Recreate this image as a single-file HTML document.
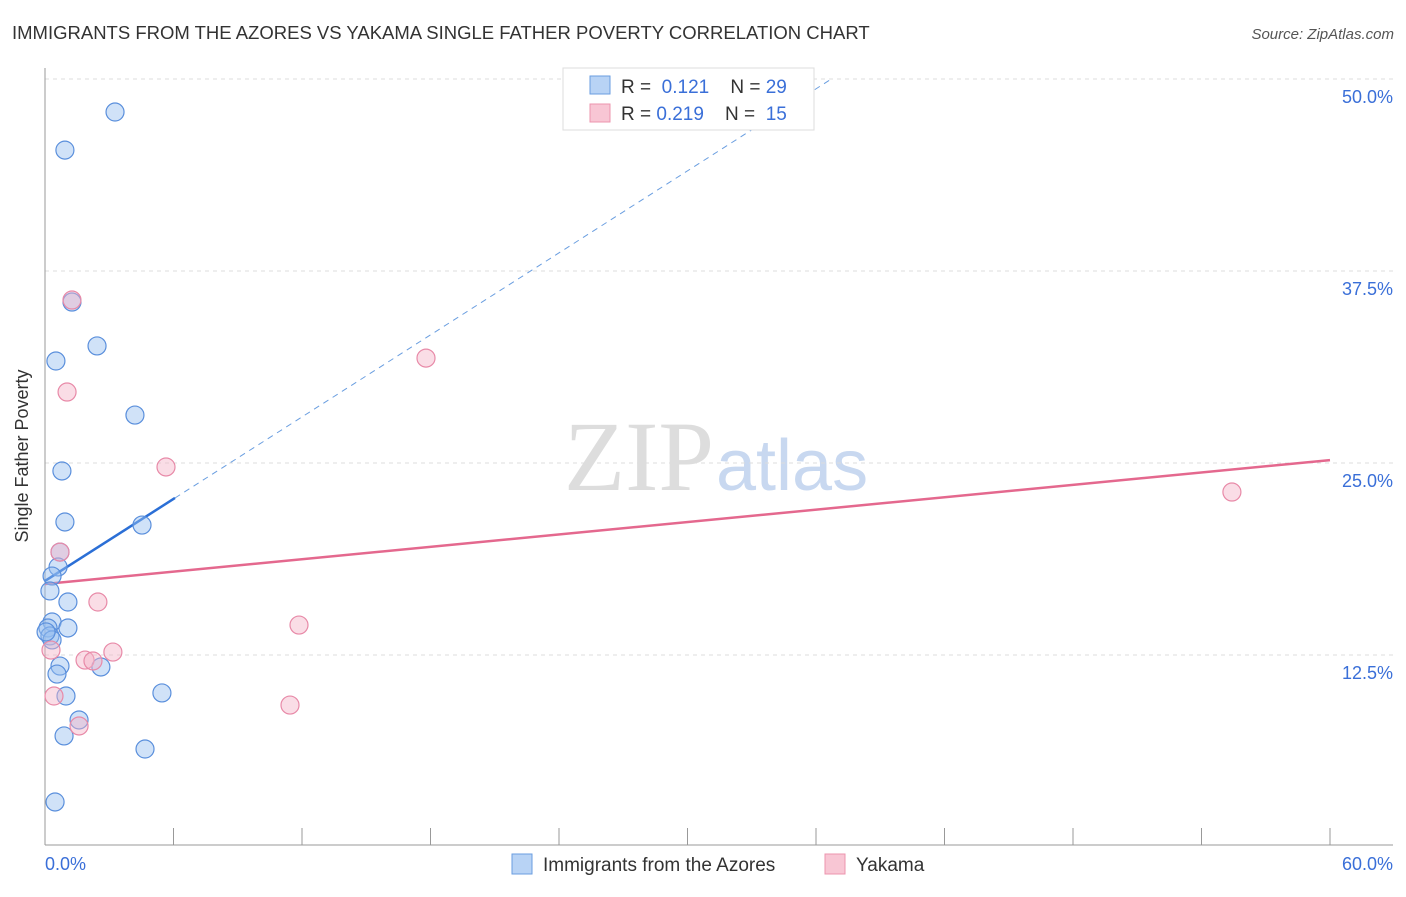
<!DOCTYPE html>
<html><head><meta charset="utf-8"><style>
body{margin:0;background:#fff;font-family:"Liberation Sans",sans-serif}
</style></head><body>
<svg width="1406" height="892" xmlns="http://www.w3.org/2000/svg" font-family="Liberation Sans, sans-serif">
<text x="12" y="39" font-size="18.5" fill="#333">IMMIGRANTS FROM THE AZORES VS YAKAMA SINGLE FATHER POVERTY CORRELATION CHART</text>
<text x="1394" y="39" font-size="15" fill="#555" font-style="italic" text-anchor="end">Source: ZipAtlas.com</text>
<text x="714" y="490" font-size="100" fill="#ddd" text-anchor="end" font-family="Liberation Serif, serif">ZIP</text>
<text x="716" y="490" font-size="72" fill="#c8d8f0">atlas</text>
<g id="grid"></g>
<line x1="45" y1="68" x2="45" y2="845" stroke="#999"/>
<line x1="45" y1="845" x2="1393" y2="845" stroke="#999"/>
<g id="xt"></g>
<text x="28" y="456" font-size="18" fill="#333" text-anchor="middle" transform="rotate(-90 28 456)">Single Father Poverty</text>
<text x="45" y="870" font-size="18" fill="#3a6fd8">0.0%</text>
<text x="1393" y="870" font-size="18" fill="#3a6fd8" text-anchor="end">60.0%</text>
<g id="lines"></g>
<g id="pts"></g>
<g>
<rect x="563" y="68" width="251" height="62" fill="#fff" stroke="#ddd"/>
<rect x="590" y="76" width="20" height="18" fill="#b8d3f5" stroke="#6a9ee0"/>
<rect x="590" y="104" width="20" height="18" fill="#f8c6d4" stroke="#ec94ae"/>
<text x="621" y="93" font-size="19" fill="#333">R = <tspan fill="#3a6fd8">&#160;0.121</tspan>&#160;&#160;&#160;&#160;N = <tspan fill="#3a6fd8">29</tspan></text>
<text x="621" y="120" font-size="19" fill="#333">R = <tspan fill="#3a6fd8">0.219</tspan>&#160;&#160;&#160;&#160;N = <tspan fill="#3a6fd8">&#160;15</tspan></text>
</g>
<g>
<rect x="512" y="854" width="20" height="20" fill="#b8d3f5" stroke="#6a9ee0"/>
<text x="543" y="871" font-size="19" fill="#333">Immigrants from the Azores</text>
<rect x="825" y="854" width="20" height="20" fill="#f8c6d4" stroke="#ec94ae"/>
<text x="856" y="871" font-size="19" fill="#333">Yakama</text>
</g>
</svg>
<script>
const yTicks=[12.5,25,37.5,50];
const yTickLabels=["12.5%","25.0%","37.5%","50.0%"];
const blueX=[3.27,0.93,1.26,0.51,2.43,4.20,0.79,0.93,4.53,0.70,0.61,0.33,0.23,1.07,0.33,1.07,0.14,0.23,0.33,0.70,2.61,0.56,0.98,5.46,1.59,0.89,4.67,0.47,0.05];
const blueY=[47.85,45.37,35.48,31.64,32.62,28.12,24.48,21.16,20.96,19.20,18.23,17.64,16.67,15.95,14.65,14.26,14.26,13.74,13.48,11.78,11.72,11.26,9.83,10.03,8.27,7.23,6.38,2.93,14.00];
const pinkX=[1.26,1.03,5.65,17.79,55.42,0.70,2.47,11.86,3.17,1.87,2.24,0.28,0.42,11.44,1.59];
const pinkY=[35.61,29.62,24.74,31.83,23.11,19.20,15.95,14.45,12.69,12.17,12.11,12.82,9.83,9.24,7.88];
const blueTrend=[17.32,0.89];
const pinkTrend=[17.12,0.1345];
const NS="http://www.w3.org/2000/svg";
const sx=v=>45+v/60*1285, sy=v=>847-v/12.5*192;
function mk(t,a,p){const e=document.createElementNS(NS,t);for(const k in a)e.setAttribute(k,a[k]);document.getElementById(p).appendChild(e);return e;}
yTicks.forEach((t,i)=>{
 const g=mk('line',{x1:45,x2:1393,y1:sy(t),y2:sy(t),stroke:'#ddd','stroke-dasharray':'4 4'},'grid');
 
 
 const l=mk('text',{x:1393,y:sy(t)+24,'font-size':18,fill:'#3a6fd8','text-anchor':'end'},'grid');
 l.textContent=yTickLabels[i];
 
 
});
for(let k=1;k<=10;k++){
 const e=mk('line',{x1:sx(k*6),x2:sx(k*6),y1:828,y2:845,stroke:'#999'},'xt');
 
 
}
let b1=mk('line',{x1:sx(0),y1:sy(blueTrend[0]),x2:sx(6.07),y2:sy(blueTrend[0]+blueTrend[1]*6.07),stroke:'#2b6fd6','stroke-width':2.5},'lines');


const xe=(50-blueTrend[0])/blueTrend[1];
let b2=mk('line',{x1:sx(6.07),y1:sy(blueTrend[0]+blueTrend[1]*6.07),x2:sx(xe),y2:sy(50),stroke:'#6a9ee0','stroke-width':1,'stroke-dasharray':'6 5'},'lines');


let p1=mk('line',{x1:sx(0),y1:sy(pinkTrend[0]),x2:sx(60),y2:sy(pinkTrend[0]+pinkTrend[1]*60),stroke:'#e4688e','stroke-width':2.5},'lines');


blueX.forEach((x,i)=>{
 const c=mk('circle',{cx:sx(x),cy:sy(blueY[i]),r:9,fill:'rgba(150,190,240,0.45)',stroke:'#5a8fdc','stroke-width':1.2},'pts');
 
 
});
pinkX.forEach((x,i)=>{
 const c=mk('circle',{cx:sx(x),cy:sy(pinkY[i]),r:9,fill:'rgba(245,180,200,0.45)',stroke:'#e88aa8','stroke-width':1.2},'pts');
 
 
});
</script>
</body></html>
